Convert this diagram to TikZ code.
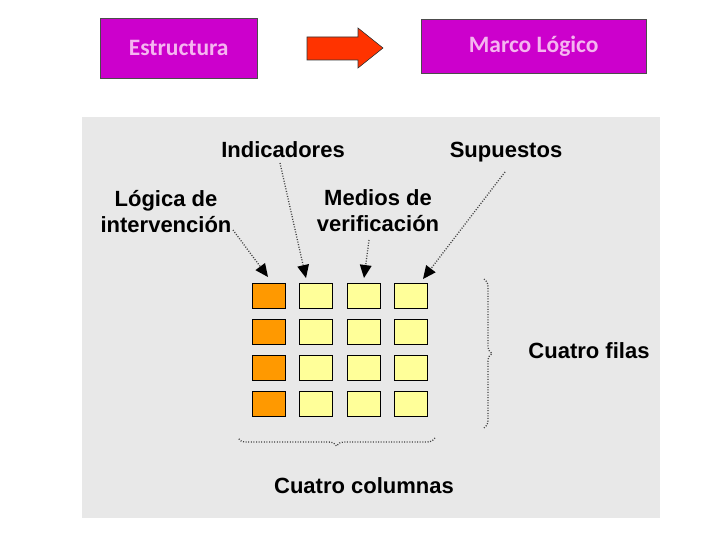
\documentclass[tikz,border=0pt]{standalone}
\usepackage{fontspec}
\setmainfont{Liberation Sans}
\newfontfamily\calib{Carlito}
\usetikzlibrary{arrows.meta,decorations.pathreplacing}
\definecolor{purp}{HTML}{CC00CC}
\definecolor{pinktxt}{HTML}{F5B5F0}
\definecolor{arrred}{HTML}{FF3300}
\definecolor{panel}{HTML}{E8E8E8}
\definecolor{orng}{HTML}{FF9900}
\definecolor{yell}{HTML}{FFFF99}
\tikzset{
  topbox/.style={draw=black!70, fill=purp, text=pinktxt, font=\calib\bfseries\fontsize{23.5}{26}\selectfont, inner sep=0pt, anchor=north west},
  lbl/.style={font=\bfseries\fontsize{22}{26}\selectfont, align=center, inner sep=0pt, text=black},
  cell/.style={draw=black, line width=1pt, minimum width=33pt, minimum height=25pt, inner sep=0pt, anchor=north west},
  ocell/.style={cell, fill=orng},
  ycell/.style={cell, fill=yell},
  ptr/.style={line width=1.3pt, black!75, dash pattern=on 1pt off 1.6pt, -{Triangle[length=13pt,width=12pt,fill=black,line width=0pt]}},
  brc/.style={line width=1.3pt, black!75, dash pattern=on 1pt off 1.6pt, decorate, decoration={brace, amplitude=8pt}}
}
\begin{document}
\begin{tikzpicture}[x=1pt,y=-1pt]
\useasboundingbox (0,0) rectangle (720,540);
\fill[white] (0,0) rectangle (720,540);
% top boxes
\node[topbox, minimum width=157pt, minimum height=60pt] (estr) at (100,18) {Estructura};
\node[topbox, minimum width=225pt, minimum height=54pt] (marco) at (421,19) {\raisebox{-2.5pt}{Marco Lógico}};
% block arrow
\draw[fill=arrred, draw=black!80, line width=0.6pt] (307,37) -- (358,37) -- (358,28) -- (383,48) -- (358,68) -- (358,60) -- (307,60) -- cycle;
% panel
\fill[panel] (82,117) rectangle (660,518);
% labels
\node[lbl] (ind) at (283,150) {Indicadores};
\node[lbl] (sup) at (506,152) {Supuestos};
\node[lbl] (log) at (166,212) {Lógica de\\intervención};
\node[lbl] (med) at (378,211) {Medios de\\verificación};
\node[lbl] (filas) at (589,351) {Cuatro filas};
\node[lbl] (cols) at (364,486) {Cuatro columnas};
% grid
\foreach \r/\y in {1/283,2/319,3/355,4/391}{
  \node[ocell] (c\r1) at (252,\y) {};
  \node[ycell] (c\r2) at (299,\y) {};
  \node[ycell] (c\r3) at (347,\y) {};
  \node[ycell] (c\r4) at (394,\y) {};
}
% pointers
\coordinate (a1) at (233,230);
\coordinate (a2) at (280,163);
\coordinate (a3) at (369,240);
\coordinate (a4) at (505,172);
\coordinate (t1) at (268,277);
\coordinate (t2) at (306,278);
\coordinate (t3) at (364,278);
\coordinate (t4) at (423,279);
\draw[ptr] (a1) -- (t1);
\draw[ptr] (a2) -- (t2);
\draw[ptr] (a3) -- (t3);
\draw[ptr] (a4) -- (t4);
% braces
\coordinate (b1) at (484,279);
\coordinate (b2) at (484,428);
\draw[brc] (b1) -- (b2);
\coordinate (b3) at (435,438);
\coordinate (b4) at (238,438);
\draw[brc] (b3) -- (b4);
\end{tikzpicture}
\end{document}
